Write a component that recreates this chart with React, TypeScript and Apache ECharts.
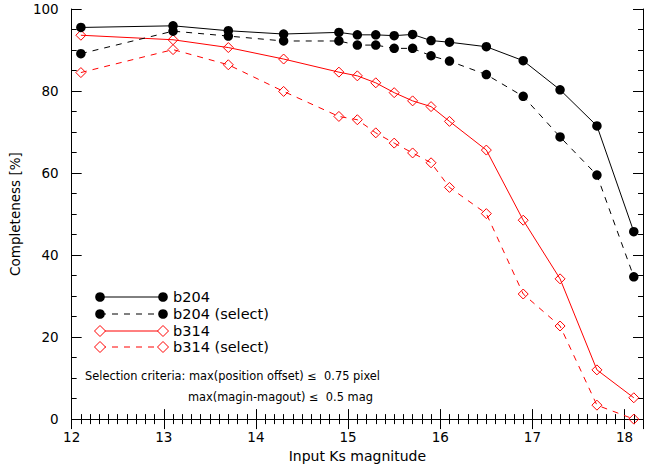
import React, { useEffect, useRef } from "react";
import * as echarts from "echarts";

const mags = [12.1, 13.1, 13.7, 14.3, 14.9, 15.1, 15.3, 15.5, 15.7, 15.9, 16.1, 16.5, 16.9, 17.3, 17.7, 18.1];
const b204 = [95.5, 95.9, 94.7, 93.9, 94.3, 93.7, 93.7, 93.5, 93.8, 92.3, 91.9, 90.8, 87.4, 80.3, 71.5, 45.7];
const b204Select = [89.1, 94.6, 93.4, 92.2, 92.2, 91.2, 91.2, 90.4, 90.4, 88.6, 87.3, 84.0, 78.7, 68.8, 59.5, 34.7];
const b314 = [93.6, 92.5, 90.6, 87.8, 84.6, 83.7, 82.0, 79.6, 77.6, 76.2, 72.6, 65.6, 48.5, 34.2, 12.0, 5.2];
const b314Select = [84.5, 90.1, 86.4, 79.9, 73.8, 73.0, 69.8, 67.3, 64.9, 62.5, 56.5, 50.1, 30.5, 22.7, 3.4, 0.0];
const legendNames = ["b204", "b204 (select)", "b314", "b314 (select)"];
const noteLines = [
  "Selection criteria: max(position offset) \u2264  0.75 pixel",
  "max(magin-magout) \u2264  0.5 mag",
];

const FONT = "DejaVu Sans, Liberation Sans, Arial, sans-serif";
const DASH = [6, 6];

const pairs = (ys: number[]) => mags.map((m, i) => [m, ys[i]]);

export default function App() {
  const ref = useRef<HTMLDivElement>(null);
  useEffect(() => {
    if (!ref.current) return;
    const chart = echarts.init(ref.current, null, { renderer: "svg" });
    const black = "#000";
    const red = "#ff0000";
    const circleSeries = (name: string, data: number[], dashed: boolean) => ({
      name,
      type: "line",
      data: pairs(data),
      symbol: "circle",
      symbolSize: 9.5,
      showSymbol: true,
      lineStyle: { color: black, width: 1, type: dashed ? DASH : "solid" },
      itemStyle: { color: black, borderWidth: 0 },
      z: 3,
    });
    const diamondSeries = (name: string, data: number[], dashed: boolean) => ({
      name,
      type: "line",
      data: pairs(data),
      symbol: "diamond",
      symbolSize: 10,
      showSymbol: true,
      lineStyle: { color: red, width: 1, type: dashed ? DASH : "solid" },
      itemStyle: { color: "rgba(0,0,0,0)", borderColor: red, borderWidth: 1 },
      z: 2,
    });

    // legend graphics
    const lx0 = 100, lx1 = 163, ly = [297, 314, 331, 347];
    const legendEls: any[] = [];
    const diamond = (cx: number, cy: number) => ({
      type: "polygon",
      shape: { points: [[cx, cy - 5.5], [cx + 5.5, cy], [cx, cy + 5.5], [cx - 5.5, cy]] },
      style: { fill: "#fff", stroke: red, lineWidth: 1 },
      z: 101,
    });
    legendNames.forEach((name, i) => {
      const isRed = i >= 2;
      const dashed = i % 2 === 1;
      const col = isRed ? red : black;
      legendEls.push({
        type: "line",
        shape: { x1: lx0, y1: ly[i], x2: lx1, y2: ly[i] },
        style: { stroke: col, lineWidth: 1, lineDash: dashed ? DASH : null },
        z: 100,
      });
      if (isRed) {
        legendEls.push(diamond(lx0, ly[i]), diamond(lx1, ly[i]));
      } else {
        legendEls.push(
          { type: "circle", shape: { cx: lx0, cy: ly[i], r: 4.8 }, style: { fill: black }, z: 101 },
          { type: "circle", shape: { cx: lx1, cy: ly[i], r: 4.8 }, style: { fill: black }, z: 101 }
        );
      }
      legendEls.push({
        type: "text",
        x: 173,
        y: ly[i],
        style: { text: name, fill: "#000", font: `14.5px ${FONT}`, textVerticalAlign: "middle" },
        z: 101,
      });
    });
    legendEls.push(
      {
        type: "text",
        x: 85,
        y: 376,
        style: { text: noteLines[0], fill: "#000", font: `11.4px ${FONT}`, textVerticalAlign: "middle" },
      },
      {
        type: "text",
        x: 188,
        y: 397,
        style: { text: noteLines[1], fill: "#000", font: `11.4px ${FONT}`, textVerticalAlign: "middle" },
      }
    );

    const axisCommon = {
      axisLine: { show: true, lineStyle: { color: "#000", width: 1 } },
      axisTick: { show: true, inside: true, length: 10, lineStyle: { color: "#000" } },
      minorTick: { show: true, length: 5, lineStyle: { color: "#000" } },
      splitLine: { show: false },
    };

    chart.setOption({
      animation: false,
      backgroundColor: "#fff",
      textStyle: { fontFamily: FONT },
      grid: { left: 66, right: 1, top: 9, bottom: 48, containLabel: false },
      xAxis: [
        {
          type: "value",
          min: 12,
          max: 18.2,
          interval: 1,
          ...axisCommon,
          minorTick: { ...axisCommon.minorTick, splitNumber: 10 },
          axisLabel: {
            color: "#000",
            fontSize: 13.5,
            fontFamily: FONT,
            margin: 11,
            formatter: (v: number) => (Math.abs(v - Math.round(v)) < 1e-6 ? String(Math.round(v)) : ""),
          },
          name: "Input Ks magnitude",
          nameLocation: "middle",
          nameGap: 29,
          nameTextStyle: { color: "#000", fontSize: 14, fontFamily: FONT },
        },
        {
          type: "value",
          position: "top",
          min: 12,
          max: 18.2,
          interval: 1,
          ...axisCommon,
          minorTick: { ...axisCommon.minorTick, splitNumber: 10 },
          axisLabel: { show: false },
        },
      ],
      yAxis: [
        {
          type: "value",
          min: 0,
          max: 100,
          interval: 20,
          ...axisCommon,
          minorTick: { ...axisCommon.minorTick, splitNumber: 4 },
          axisLabel: { color: "#000", fontSize: 13.5, fontFamily: FONT, margin: 13 },
          name: "Completeness [%]",
          nameLocation: "middle",
          nameGap: 45,
          nameTextStyle: { color: "#000", fontSize: 13.5, fontFamily: FONT },
        },
        {
          type: "value",
          position: "right",
          min: 0,
          max: 100,
          interval: 20,
          ...axisCommon,
          minorTick: { ...axisCommon.minorTick, splitNumber: 4 },
          axisLabel: { show: false },
        },
      ],
      series: [
        circleSeries(legendNames[0], b204, false),
        circleSeries(legendNames[1], b204Select, true),
        diamondSeries(legendNames[2], b314, false),
        diamondSeries(legendNames[3], b314Select, true),
      ],
      graphic: legendEls,
    });
    return () => chart.dispose();
  }, []);
  return <div ref={ref} style={{ width: 646, height: 468, position: "absolute", left: 0, top: 0 }} />;
}
